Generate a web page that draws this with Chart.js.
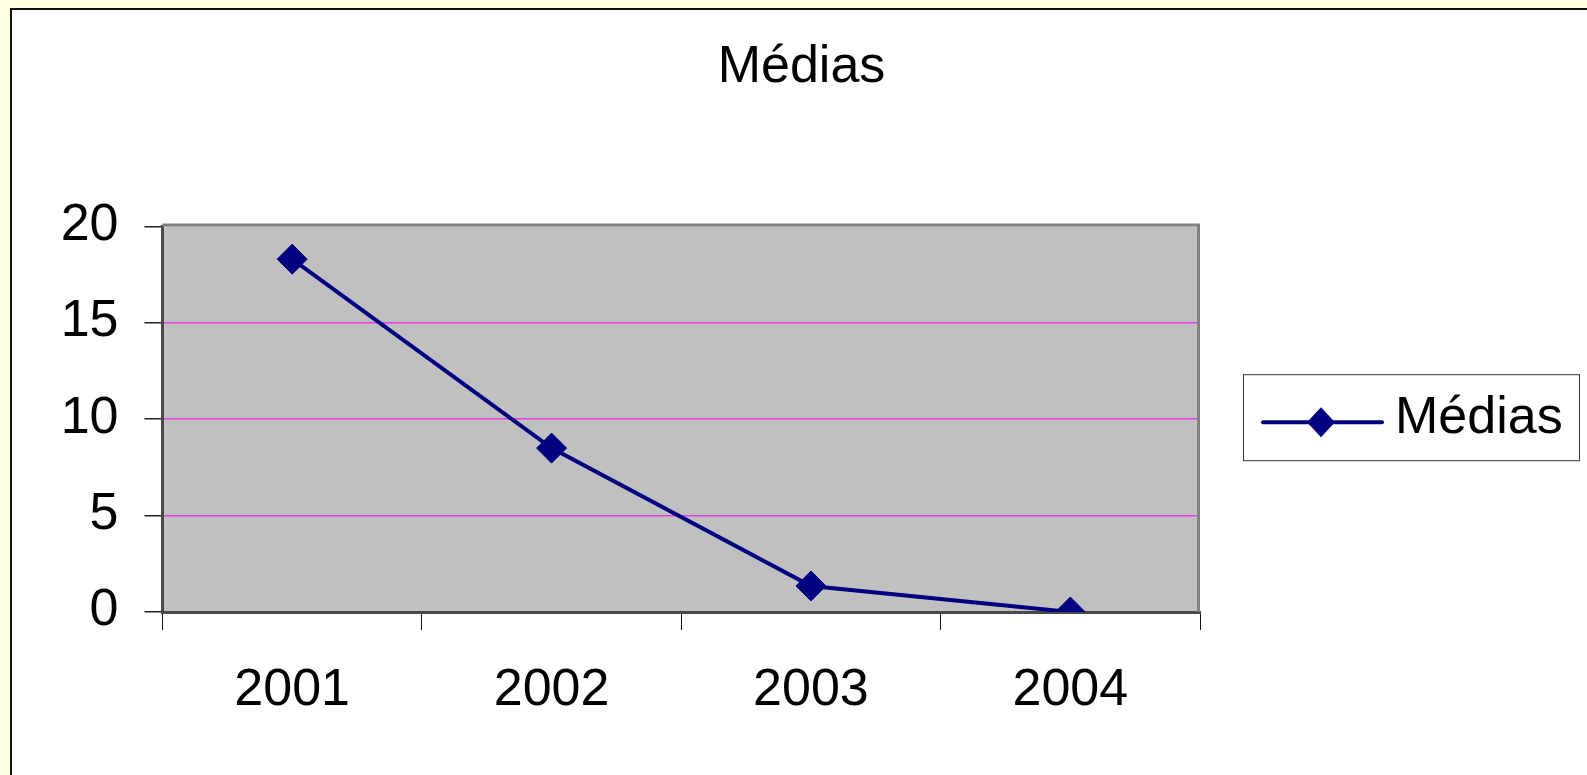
<!DOCTYPE html>
<html>
<head>
<meta charset="utf-8">
<script src="https://cdn.jsdelivr.net/npm/chart.js@4/dist/chart.umd.min.js"></script>
<style>
    body { margin: 0; background: #FFFFE0; overflow: hidden; }
    #panel {
        position: absolute; left: 10px; top: 8px; width: 1600px; height: 800px;
        background: #fff; border-left: 2px solid #111; border-top: 2px solid #111;
    }
    #c_medias { position: absolute; left: 0; top: 0; }
</style>
</head>
<body>
<div id="panel"></div>
<canvas id="c_medias" width="1587" height="775"></canvas>
<script>
const anos = ['2001', '2002', '2003', '2004'];
const medias = [18.3, 8.5, 1.35, 0];
const yTicks = [0, 5, 10, 15, 20];

const fonte = "'Liberation Sans', Arial, sans-serif";
const azul = '#000080';

const c_medias = document.getElementById('c_medias');

// fundo cinza e moldura da area do grafico
const moldura = {
    id: 'moldura',
    beforeDraw: (chart) => {
        const a = chart.chartArea;
        const ctx = chart.ctx;
        ctx.save();
        ctx.fillStyle = '#C0C0C0';
        ctx.fillRect(a.left, a.top, a.right - a.left, a.bottom - a.top);
        ctx.restore();
    },
    beforeDatasetsDraw: (chart) => {
        const a = chart.chartArea;
        const ctx = chart.ctx;
        ctx.save();
        ctx.strokeStyle = '#808080';
        ctx.lineWidth = 3;
        ctx.beginPath();
        ctx.moveTo(a.left, a.top - 1.5);
        ctx.lineTo(a.right - 1.5, a.top - 1.5);
        ctx.lineTo(a.right - 1.5, a.bottom);
        ctx.stroke();
        ctx.restore();
    }
};

// legenda com caixa, linha e losango
const legenda = {
    id: 'legenda',
    afterDraw: (chart) => {
        const a = chart.chartArea;
        const ctx = chart.ctx;
        const ds = chart.data.datasets[0];
        const meio = (a.top + a.bottom) / 2;
        const x0 = a.right + 43;
        ctx.save();
        ctx.fillStyle = '#fff';
        ctx.fillRect(x0, meio - 45, 336, 86);
        ctx.strokeStyle = '#333';
        ctx.lineWidth = 1;
        ctx.strokeRect(x0 + 0.5, meio - 44.5, 336, 86);
        ctx.strokeStyle = ds.borderColor;
        ctx.lineWidth = 4;
        ctx.lineCap = 'round';
        ctx.beginPath();
        ctx.moveTo(x0 + 20, meio + 3);
        ctx.lineTo(x0 + 139, meio + 3);
        ctx.stroke();
        ctx.fillStyle = ds.backgroundColor;
        ctx.beginPath();
        ctx.moveTo(x0 + 78, meio + 3 - 15);
        ctx.lineTo(x0 + 92, meio + 3);
        ctx.lineTo(x0 + 78, meio + 3 + 15);
        ctx.lineTo(x0 + 64, meio + 3);
        ctx.closePath();
        ctx.fill();
        ctx.fillStyle = '#000';
        ctx.font = '52px ' + fonte;
        ctx.textBaseline = 'alphabetic';
        ctx.fillText(ds.label, x0 + 152, meio + 14);
        ctx.restore();
    }
};

var medias_data = {
    type: 'line',
    data: {
        labels: anos,
        datasets: [
            {
                label: 'Médias',
                data: medias,
                borderColor: azul,
                backgroundColor: azul,
                borderWidth: 4,
                pointStyle: 'rectRot',
                pointRadius: 15,
                pointBorderWidth: 1,
                tension: 0
            }
        ]
    },
    options: {
        responsive: false,
        animation: false,
        layout: {
            padding: { left: 16, right: 0, top: 0, bottom: 0 }
        },
        plugins: {
            legend: { display: false },
            tooltip: { enabled: false },
            title: {
                display: true,
                text: 'Médias',
                color: '#000',
                font: { family: fonte, size: 52, weight: 'normal', lineHeight: 1.2 },
                padding: { top: 36, bottom: 128 }
            }
        },
        scales: {
            x: {
                offset: true,
                grid: {
                    offset: true,
                    drawOnChartArea: false,
                    color: '#111',
                    tickLength: 18,
                    tickWidth: 1
                },
                border: { color: '#4a4a4a', width: 3 },
                ticks: {
                    color: '#000',
                    padding: 29,
                    maxRotation: 0,
                    font: { family: fonte, size: 52, lineHeight: 1.2 }
                },
                afterFit: (scale) => {
                    scale.height = 163;
                }
            },
            y: {
                min: yTicks[0],
                max: yTicks[yTicks.length - 1],
                afterBuildTicks: (scale) => {
                    scale.ticks = yTicks.map(v => ({ value: v }));
                },
                grid: {
                    color: (ctx) => (ctx.tick && (ctx.tick.value === yTicks[0] || ctx.tick.value === yTicks[yTicks.length - 1])) ? 'rgba(0,0,0,0)' : 'rgb(230,60,230)',
                    tickColor: '#222',
                    tickLength: 18,
                    lineWidth: 1.5
                },
                border: { color: '#4a4a4a', width: 3 },
                ticks: {
                    color: '#000',
                    padding: 26,
                    labelOffset: -1,
                    font: { family: fonte, size: 52, lineHeight: 1.2 }
                },
                afterFit: (scale) => {
                    scale.width = 146.5;
                }
            },
            espaco: {
                type: 'linear',
                position: 'right',
                display: true,
                grid: { display: false, drawTicks: false },
                border: { display: false },
                ticks: { display: false },
                afterFit: (scale) => {
                    scale.width = 387;
                }
            }
        }
    },
    plugins: [moldura, legenda]
};

var chart_medias = new Chart(c_medias, medias_data);
</script>
</body>
</html>
